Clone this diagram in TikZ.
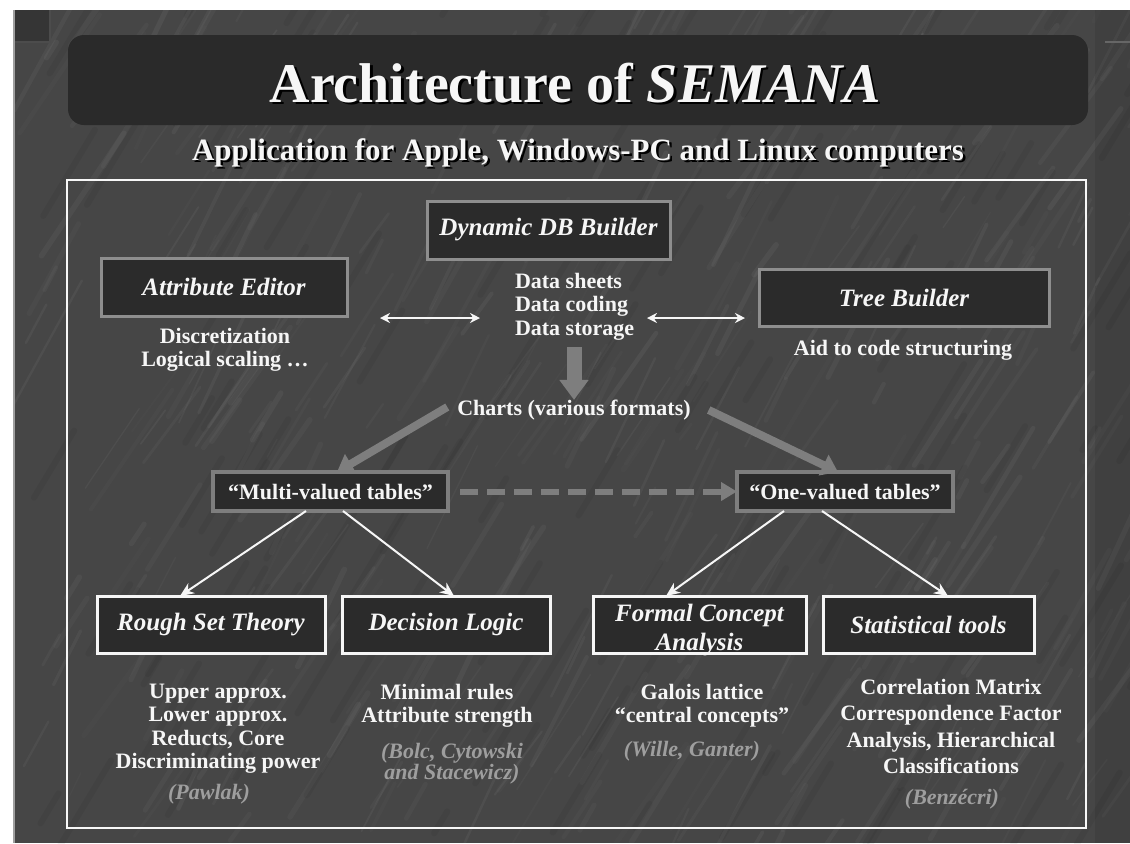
\documentclass[tikz,border=0pt]{standalone}
\usepackage{fontspec}
\setmainfont{Liberation Serif}
\usetikzlibrary{arrows.meta}

\definecolor{slate}{HTML}{464646}
\definecolor{slatedark}{HTML}{353535}
\definecolor{boxfill}{HTML}{2B2B2B}
\definecolor{bannerfill}{HTML}{2A2A2A}
\definecolor{framegray}{HTML}{8E8E8E}
\definecolor{flowgray}{HTML}{7E7E7E}
\definecolor{refgray}{HTML}{9E9E9E}
\definecolor{inkwhite}{HTML}{F6F6F6}

% white text with a small black drop shadow
\newcommand\dropshadowed[1]{\leavevmode\rlap{\kern1.2pt\raisebox{-1.2pt}{\textcolor{black}{#1}}}#1}

\begin{document}
\begin{tikzpicture}[x=0.5pt,y=-0.5pt,
  every node/.style={inner sep=0pt, outer sep=0pt, text=inkwhite},
  toolbox/.style={draw=framegray, line width=1.5pt, fill=boxfill,
    font=\fontsize{12.5}{14.5}\selectfont\bfseries\itshape},
  tablebox/.style={draw=flowgray, line width=2pt, fill=boxfill,
    font=\fontsize{11}{12}\selectfont\bfseries},
  methodbox/.style={draw=inkwhite, line width=1.5pt, fill=boxfill, align=center,
    font=\fontsize{12.5}{14.5}\selectfont\bfseries\itshape},
  note/.style={font=\fontsize{11}{11.75}\selectfont\bfseries, align=center, anchor=north},
  cite/.style={note, text=refgray, font=\fontsize{11}{10.75}\selectfont\bfseries\itshape},
  link/.style={draw=inkwhite, line width=1pt, -{Stealth[length=7pt,width=6pt]}},
  swap/.style={draw=inkwhite, line width=1.3pt,
    {Stealth[length=5pt,width=5pt]}-{Stealth[length=5pt,width=5pt]}},
  flow/.style={draw=flowgray, line width=4pt, -{Triangle[length=8pt,width=11pt]}},
]
\useasboundingbox (0,0) rectangle (1130,843);

% slide background with a faint slate grain
\fill[white] (0,0) rectangle (1130,843);
\fill[slate] (13,10) rectangle (1130,843);
\begin{scope}
  \clip (13,10) rectangle (1130,843);
  \pgfmathsetseed{17}
  \foreach \i in {1,...,380}{
    \pgfmathsetmacro\xx{13+rnd*1117}
    \pgfmathsetmacro\yy{10+rnd*850}
    \pgfmathsetmacro\ll{15+rnd*110}
    \pgfmathsetmacro\oo{0.015+rnd*0.035}
    \pgfmathsetmacro\ww{0.6+rnd*2.2}
    \pgfmathsetmacro\ss{0.45+rnd*0.3}
    \draw[white, opacity=\oo, line width=\ww pt, line cap=round] (\xx,\yy) -- ++(\ss*\ll,-\ll);
  }
  \foreach \i in {1,...,140}{
    \pgfmathsetmacro\xx{13+rnd*1117}
    \pgfmathsetmacro\yy{10+rnd*850}
    \pgfmathsetmacro\ll{20+rnd*90}
    \draw[black, opacity=0.05, line width=3pt, line cap=round] (\xx,\yy) -- ++(0.6*\ll,-\ll);
  }
  % darker rim toward the right edge
  \fill[black, opacity=0.08] (1095,10) rectangle (1130,843);
\end{scope}
\draw[gray!75, line width=1pt] (14,10) -- (14,843);
\fill[slatedark] (15,10) rectangle (50,42);
\draw[black!70, line width=1pt] (50,10) -- (50,42) -- (15,42);
\draw[black!60, line width=1pt] (1105,42) -- (1130,42);

% title banner
\fill[bannerfill, rounded corners=8pt] (68,35) rectangle (1088,125);
\node[anchor=base, font=\fontsize{28}{30}\selectfont\bfseries] (title) at (575,102)
  {\dropshadowed{Architecture of \textit{SEMANA}}};
\node[anchor=base, font=\fontsize{15.5}{17}\selectfont\bfseries] (subtitle) at (578,160)
  {\dropshadowed{Application for Apple, Windows-PC and Linux computers}};

% outer frame
\draw[inkwhite!85, line width=1pt] (67,180) rectangle (1086,828);

% top row: builders and editor
\node[toolbox, minimum width=121.5pt, minimum height=29pt] (db) at (548.5,230) {Dynamic DB Builder};
\node[toolbox, minimum width=123pt, minimum height=29pt] (attr) at (224,287) {Attribute Editor};
\node[toolbox, minimum width=145pt, minimum height=28.5pt] (tree) at (904,297.5) {Tree Builder};

\node[note, anchor=north west, align=left] (dbnotes) at (515,273)
  {Data sheets\\Data coding\\Data storage};
\node[note] (attrnotes) at (225,328) {Discretization\\Logical scaling \dots};
\node[note] (treenotes) at (903,340) {Aid to code structuring};

\coordinate (swapLa) at (380,318);
\coordinate (swapLb) at (480,318);
\coordinate (swapRa) at (647,318);
\coordinate (swapRb) at (745,318);
\draw[swap] (swapLa) -- (swapLb);
\draw[swap] (swapRa) -- (swapRb);

% charts and table kinds
\node[note, anchor=center] (charts) at (574,410) {Charts (various formats)};
\draw[draw=flowgray, line width=7.5pt, -{Triangle[length=10pt,width=14pt]}]
  (574,347) -- (charts.north);

\node[tablebox, minimum width=117.5pt, minimum height=19.5pt] (multi) at (330.5,491.5) {``Multi-valued tables''};
\node[tablebox, minimum width=108pt, minimum height=19.5pt] (one) at (845,491.5) {``One-valued tables''};

\draw[flow] (charts.west |- 0,407) ++(-10,0) -- (multi.north -| 337,0);
\draw[flow] (charts.east |- 0,410) ++(18,0) -- (one.north -| 838,0);
\draw[draw=flowgray, line width=3pt, dash pattern=on 9pt off 4.5pt,
  -{Triangle[length=8pt,width=9pt]}] (multi.east) ++(12,0) -- (one.west);

% methods
\node[methodbox, minimum width=114pt, minimum height=28.5pt] (rough) at (211,624.5) {Rough Set Theory};
\node[methodbox, minimum width=104pt, minimum height=28.5pt] (dlogic) at (446,624.5) {Decision Logic};
\node[methodbox, minimum width=106.5pt, minimum height=28.5pt] (fca) at (699.5,624.5) {};
\node[align=center, font=\fontsize{12.5}{14.5}\selectfont\bfseries\itshape] (fcatitle) at (699.5,630.5)
  {Formal Concept\\Analysis};
\node[methodbox, minimum width=105.5pt, minimum height=28.5pt] (stats) at (928.5,624.5) {Statistical tools};

\draw[link] (multi.south -| 306,0) -- (rough.north -| 180,0);
\draw[link] (multi.south -| 343,0) -- (dlogic.north -| 454,0);
\draw[link] (one.south -| 784,0) -- (fca.north -| 666,0);
\draw[link] (one.south -| 822,0) -- (stats.north -| 948,0);

\node[note] (roughnotes) at (218,684) {Upper approx.\\Lower approx.\\Reducts, Core\\Discriminating power};
\node[cite] (roughref) at (209,784) {(Pawlak)};
\node[note] (dlnotes) at (447,684) {Minimal rules\\Attribute strength};
\node[cite] (dlref) at (452,743) {(Bolc, Cytowski\\and Stacewicz)};
\node[note] (fcanotes) at (702,684) {Galois lattice\\``central concepts''};
\node[cite] (fcaref) at (692,741) {(Wille, Ganter)};
\node[note, execute at begin node={\baselineskip=13.2pt}] (statnotes) at (951,679)
  {Correlation Matrix\\Correspondence Factor\\Analysis, Hierarchical\\Classifications};
\node[cite] (statref) at (952,789) {(Benzécri)};
\end{tikzpicture}
\end{document}
